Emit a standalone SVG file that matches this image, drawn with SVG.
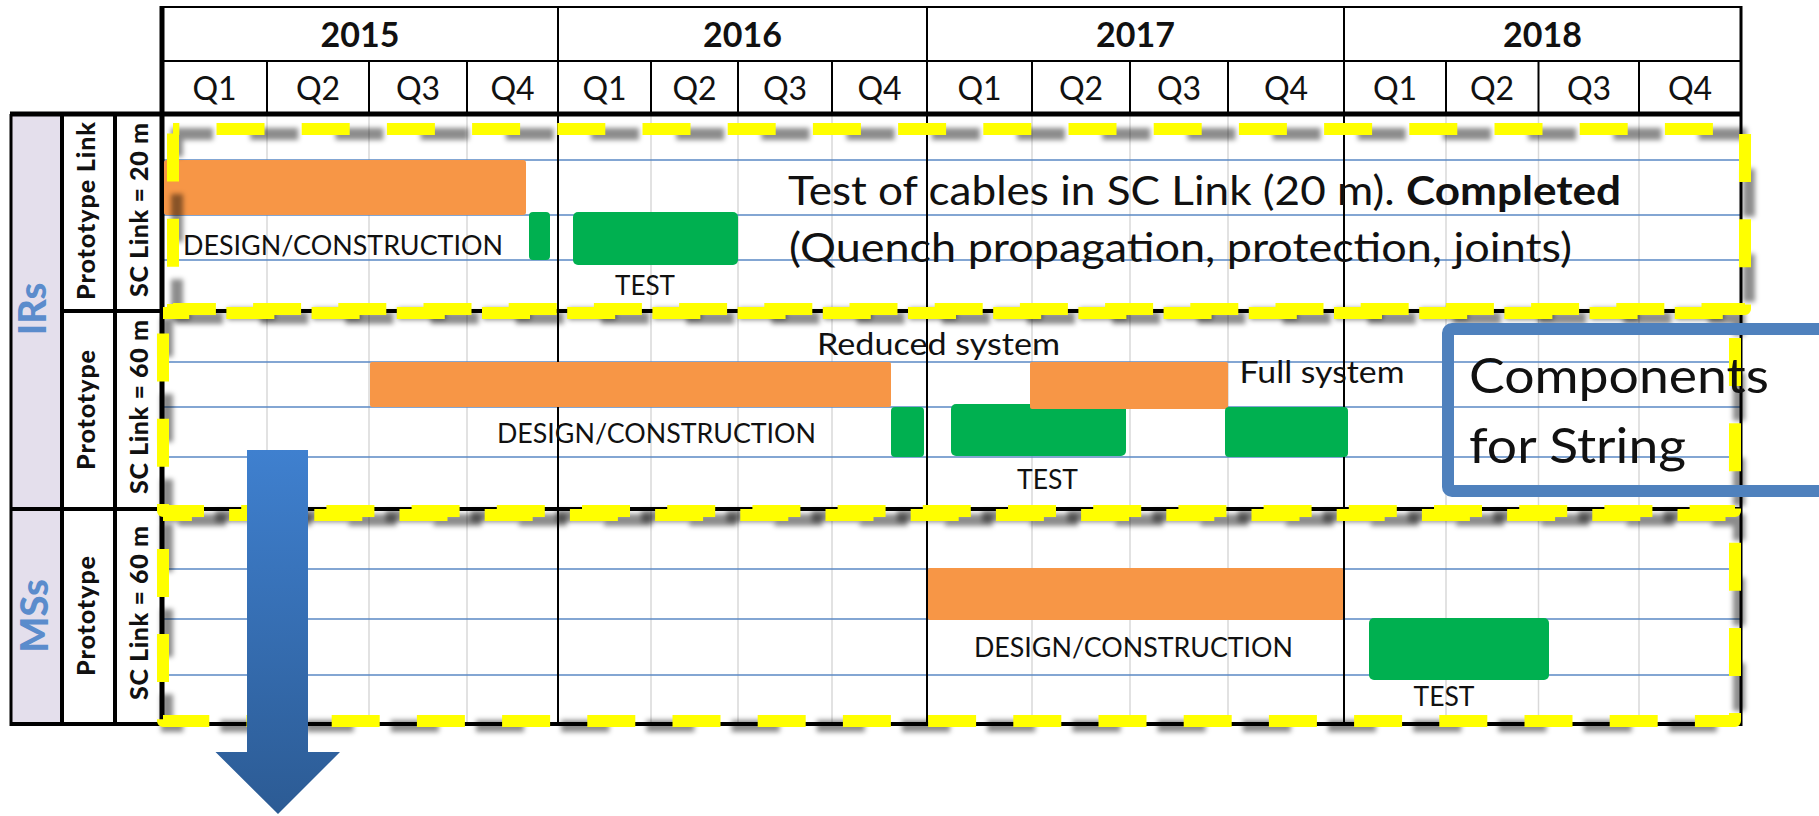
<svg xmlns="http://www.w3.org/2000/svg" width="1819" height="816" viewBox="0 0 1819 816">
  <style>
    text { font-family: Lato, "Liberation Sans", Arial, sans-serif; fill: #111; }
    .yr { font-size: 34px; font-weight: bold; text-anchor: middle; }
    .q { font-size: 32px; text-anchor: middle; }
    .side { font-size: 25px; font-weight: 900; text-anchor: middle; }
    .grp { font-size: 38px; font-weight: 900; text-anchor: middle; fill: #5b8ccc; }
    .task { font-size: 27px; }
    .note { font-size: 40px; }
    .sub { font-size: 30px; }
    .big { font-size: 49px; }
    .qline { stroke: #d9d9d9; stroke-width: 1.5; }
    .hline { stroke: #5a88c4; stroke-width: 1.5; }
    .blk { stroke: #000; fill: none; }
    .design { fill: #f79646; }
    .test { fill: #00b050; }
    .frame { fill: none; stroke: #ffff00; stroke-width: 12; stroke-dasharray: 48 37.2; stroke-linejoin: round; }
    .frame-sh { fill: none; stroke: #000; stroke-opacity: 0.45; stroke-width: 12; stroke-dasharray: 48 37.2; filter: url(#blur); }
  </style>
  <defs>
    <filter id="blur" x="-5%" y="-20%" width="110%" height="140%">
      <feGaussianBlur stdDeviation="2.6"/>
    </filter>
    <linearGradient id="arrowFill" gradientUnits="userSpaceOnUse" x1="0" y1="450" x2="0" y2="814">
      <stop offset="0" stop-color="#3f80cf"/>
      <stop offset="1" stop-color="#2c5b94"/>
    </linearGradient>
  </defs>

  <rect width="1819" height="816" fill="#fff"/>

  <!-- side label columns -->
  <g id="side-labels">
    <rect x="11" y="114" width="51" height="395" fill="#e4dfec"/>
    <rect x="11" y="509" width="51" height="215" fill="#e4dfec"/>
    <text class="grp" transform="translate(46,309) rotate(-90)">IRs</text>
    <text class="grp" transform="translate(48,616) rotate(-90)">MSs</text>
    <text class="side" transform="translate(95,211) rotate(-90)" textLength="178">Prototype Link</text>
    <text class="side" transform="translate(148,210) rotate(-90)" textLength="174">SC Link = 20 m</text>
    <text class="side" transform="translate(95,410) rotate(-90)" textLength="120">Prototype</text>
    <text class="side" transform="translate(148,407) rotate(-90)" textLength="174">SC Link = 60 m</text>
    <text class="side" transform="translate(95,616) rotate(-90)" textLength="120">Prototype</text>
    <text class="side" transform="translate(148,613) rotate(-90)" textLength="174">SC Link = 60 m</text>
  </g>

  <!-- grid: quarter guides and row guides -->
  <g id="grid">
    <g class="qline">
      <line x1="267" y1="114" x2="267" y2="724"/>
      <line x1="369" y1="114" x2="369" y2="724"/>
      <line x1="467" y1="114" x2="467" y2="724"/>
      <line x1="651" y1="114" x2="651" y2="724"/>
      <line x1="738" y1="114" x2="738" y2="724"/>
      <line x1="832" y1="114" x2="832" y2="724"/>
      <line x1="1032" y1="114" x2="1032" y2="724"/>
      <line x1="1130" y1="114" x2="1130" y2="724"/>
      <line x1="1228" y1="114" x2="1228" y2="724"/>
      <line x1="1446" y1="114" x2="1446" y2="724"/>
      <line x1="1538.5" y1="114" x2="1538.5" y2="724"/>
      <line x1="1639" y1="114" x2="1639" y2="724"/>
    </g>
    <g class="hline">
      <line x1="164" y1="160" x2="1741" y2="160"/>
      <line x1="164" y1="215" x2="1741" y2="215"/>
      <line x1="164" y1="260" x2="1741" y2="260"/>
      <line x1="164" y1="362" x2="1741" y2="362"/>
      <line x1="164" y1="407" x2="1741" y2="407"/>
      <line x1="164" y1="457" x2="1741" y2="457"/>
      <line x1="164" y1="569" x2="1741" y2="569"/>
      <line x1="164" y1="619" x2="1741" y2="619"/>
      <line x1="164" y1="675" x2="1741" y2="675"/>
    </g>
  </g>

  <!-- table borders and header -->
  <g id="table">
    <line class="blk" x1="162" y1="7" x2="1741" y2="7" stroke-width="2" stroke="#333"/>
    <line class="blk" x1="162" y1="61" x2="1741" y2="61" stroke-width="2"/>
    <g class="blk" stroke-width="2">
      <line x1="267" y1="61" x2="267" y2="114"/>
      <line x1="369" y1="61" x2="369" y2="114"/>
      <line x1="467" y1="61" x2="467" y2="114"/>
      <line x1="651" y1="61" x2="651" y2="114"/>
      <line x1="738" y1="61" x2="738" y2="114"/>
      <line x1="832" y1="61" x2="832" y2="114"/>
      <line x1="1032" y1="61" x2="1032" y2="114"/>
      <line x1="1130" y1="61" x2="1130" y2="114"/>
      <line x1="1228" y1="61" x2="1228" y2="114"/>
      <line x1="1446" y1="61" x2="1446" y2="114"/>
      <line x1="1538.5" y1="61" x2="1538.5" y2="114"/>
      <line x1="1639" y1="61" x2="1639" y2="114"/>
      <line x1="558" y1="7" x2="558" y2="724"/>
      <line x1="927" y1="7" x2="927" y2="724"/>
      <line x1="1344" y1="7" x2="1344" y2="724"/>
    </g>
    <line class="blk" x1="10" y1="114" x2="1742" y2="114" stroke-width="5"/>
    <line class="blk" x1="62" y1="311" x2="1741" y2="311" stroke-width="4"/>
    <line class="blk" x1="10" y1="509" x2="1741" y2="509" stroke-width="4"/>
    <line class="blk" x1="10" y1="724" x2="1742" y2="724" stroke-width="4"/>
    <line class="blk" x1="11" y1="114" x2="11" y2="726" stroke-width="3" stroke="#222"/>
    <line class="blk" x1="62" y1="114" x2="62" y2="724" stroke-width="4"/>
    <line class="blk" x1="115" y1="114" x2="115" y2="724" stroke-width="4"/>
    <line class="blk" x1="162" y1="6" x2="162" y2="726" stroke-width="5"/>
    <line class="blk" x1="1741" y1="6" x2="1741" y2="726" stroke-width="3"/>

    <text class="yr" x="360" y="47">2015</text>
    <text class="yr" x="742.5" y="47">2016</text>
    <text class="yr" x="1135.5" y="47">2017</text>
    <text class="yr" x="1542.5" y="47">2018</text>

    <text class="q" x="214.5" y="100">Q1</text>
    <text class="q" x="318" y="100">Q2</text>
    <text class="q" x="418" y="100">Q3</text>
    <text class="q" x="512.5" y="100">Q4</text>
    <text class="q" x="604.5" y="100">Q1</text>
    <text class="q" x="694.5" y="100">Q2</text>
    <text class="q" x="785" y="100">Q3</text>
    <text class="q" x="879.5" y="100">Q4</text>
    <text class="q" x="979.5" y="100">Q1</text>
    <text class="q" x="1081" y="100">Q2</text>
    <text class="q" x="1179" y="100">Q3</text>
    <text class="q" x="1286" y="100">Q4</text>
    <text class="q" x="1395" y="100">Q1</text>
    <text class="q" x="1492" y="100">Q2</text>
    <text class="q" x="1589" y="100">Q3</text>
    <text class="q" x="1690" y="100">Q4</text>
  </g>

  <!-- IRs, prototype link 20 m -->
  <g id="ir-link20">
    <rect id="ir20-design" class="design" x="164" y="160" width="362" height="55" rx="3"/>
    <rect id="ir20-test-a" class="test" x="529" y="212" width="21" height="48" rx="4"/>
    <rect id="ir20-test-b" class="test" x="573" y="212" width="165" height="53" rx="5"/>
    <text class="task" x="183" y="255" textLength="320" lengthAdjust="spacingAndGlyphs">DESIGN/CONSTRUCTION</text>
    <text class="task" x="615" y="295" textLength="60" lengthAdjust="spacingAndGlyphs">TEST</text>
    <text class="note" x="788" y="205" textLength="833" lengthAdjust="spacingAndGlyphs">Test of cables in SC Link (20 m). <tspan font-weight="bold">Completed</tspan></text>
    <text class="note" x="789" y="262" textLength="783" lengthAdjust="spacingAndGlyphs">(Quench propagation, protection, joints)</text>
  </g>

  <!-- IRs, prototype 60 m -->
  <g id="ir-link60">
    <rect id="ir60-design-a" class="design" x="370" y="362" width="521" height="45" rx="2"/>
    <rect id="ir60-test-a" class="test" x="891" y="407" width="33" height="50" rx="4"/>
    <rect id="ir60-test-b" class="test" x="951" y="404" width="175" height="52" rx="5"/>
    <rect id="ir60-design-b" class="design" x="1030" y="362" width="198" height="47" rx="2"/>
    <rect id="ir60-test-c" class="test" x="1225" y="407" width="123" height="50" rx="4"/>
    <text class="sub" x="817" y="355" textLength="243" lengthAdjust="spacingAndGlyphs">Reduced system</text>
    <text class="sub" x="1239.5" y="383" font-size="28" textLength="165" lengthAdjust="spacingAndGlyphs">Full system</text>
    <text class="task" x="497" y="443" textLength="319" lengthAdjust="spacingAndGlyphs">DESIGN/CONSTRUCTION</text>
    <text class="task" x="1017" y="489" textLength="61" lengthAdjust="spacingAndGlyphs">TEST</text>
  </g>

  <!-- MSs, prototype 60 m -->
  <g id="ms-link60">
    <rect id="ms60-design" class="design" x="928" y="568" width="415" height="52" rx="2"/>
    <rect id="ms60-test" class="test" x="1369" y="618" width="180" height="62" rx="5"/>
    <text class="task" x="974" y="657" textLength="319" lengthAdjust="spacingAndGlyphs">DESIGN/CONSTRUCTION</text>
    <text class="task" x="1413.5" y="706" textLength="61" lengthAdjust="spacingAndGlyphs">TEST</text>
  </g>

  <!-- dashed highlight frames with soft shadow -->
  <g id="frames">
    <path class="frame-sh" transform="translate(4,5)" stroke-dashoffset="12" d="M173,129 H1745 V309 H173 Z"/>
    <path class="frame-sh" transform="translate(4,5)" stroke-dashoffset="-8" d="M163,313 H1735 V511 H163 Z"/>
    <path class="frame-sh" transform="translate(4,5)" stroke-dashoffset="-11" d="M163,515 H1735 V721 H163 Z"/>
    <path class="frame" stroke-dashoffset="41.7" d="M173,129 H1745 V309 H173 Z"/>
    <path class="frame" stroke-dashoffset="21.8" d="M163,313 H1735 V511 H163 Z"/>
    <path class="frame" stroke-dashoffset="19.1" d="M163,515 H1735 V721 H163 Z"/>
  </g>

  <!-- callout box -->
  <g id="string-callout">
    <rect x="1448" y="329" width="420" height="162" rx="4" fill="none" stroke="#4f81bd" stroke-width="12"/>
    <text class="big" x="1469" y="393" textLength="300" lengthAdjust="spacingAndGlyphs">Components</text>
    <text class="big" x="1469" y="463" textLength="217" lengthAdjust="spacingAndGlyphs">for String</text>
  </g>

  <!-- downward block arrow -->
  <g id="connectors">
    <polygon points="247,450 308,450 308,752 340,752 278,814 215.5,752 247,752" fill="url(#arrowFill)"/>
  </g>
</svg>
